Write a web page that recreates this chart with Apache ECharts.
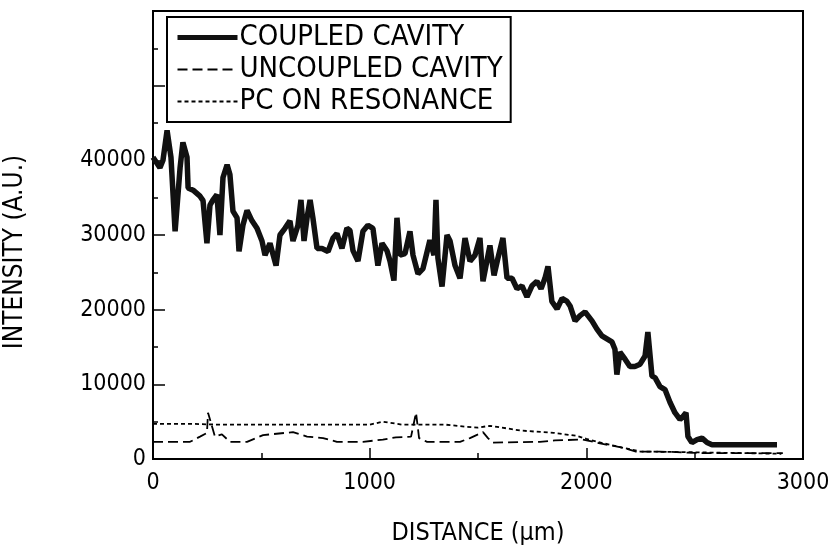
<!DOCTYPE html>
<html>
<head>
<meta charset="utf-8">
<script src="https://cdn.jsdelivr.net/npm/echarts@6/dist/echarts.min.js"></script>
<style>
  html, body { margin: 0; padding: 0; background: #fff; }
  #app { width: 834px; height: 558px; }
</style>
</head>
<body>
<div id="app"></div>
<script>
// distance (um) / intensity (a.u.)
const coupledDist = [0, 32, 46, 65, 83, 102, 125, 138, 157, 162, 185, 217, 231, 249, 263, 277, 295, 309, 323, 342,
  355, 369, 388, 397, 415, 434, 457, 480, 503, 517, 540, 568, 586, 609, 632, 646, 669, 683, 697, 711,
  725, 738, 757, 780, 808, 831, 849, 872, 895, 909, 923, 946, 969, 992, 1015, 1038, 1057, 1080, 1094, 1112,
  1126, 1140, 1163, 1186, 1200, 1223, 1246, 1278, 1297, 1306, 1315, 1334, 1357, 1371, 1394, 1417, 1440, 1463, 1486, 1509,
  1523, 1555, 1574, 1592, 1615, 1634, 1657, 1680, 1703, 1726, 1749, 1772, 1791, 1809, 1823, 1841, 1865, 1888, 1911, 1925,
  1948, 1971, 1994, 2026, 2049, 2072, 2095, 2118, 2132, 2141, 2155, 2178, 2201, 2224, 2248, 2271, 2284, 2303, 2317, 2340,
  2363, 2386, 2409, 2432, 2446, 2460, 2469, 2487, 2511, 2534, 2557, 2580, 2880];
const coupledInt = [40400, 39000, 40000, 44000, 40400, 30500, 39000, 42400, 40400, 36300, 36000, 35200, 34600, 28900, 34000, 34700, 35400, 30000, 37700, 39400,
  38100, 33200, 32300, 27800, 31300, 33300, 31900, 30900, 29200, 27300, 28900, 25900, 30000, 30900, 31900, 29200, 31300, 34700, 29200, 32300,
  34700, 32300, 28200, 28200, 27800, 29600, 30200, 28200, 30900, 30600, 27900, 26500, 30500, 31300, 30900, 25900, 28900, 27900, 26500, 23900,
  32300, 27300, 27500, 30500, 27300, 24800, 25500, 29300, 27300, 34700, 26900, 23100, 30000, 29200, 25900, 24200, 29600, 26500, 27300, 29600,
  23800, 28600, 24600, 26900, 29600, 24200, 24200, 22800, 23200, 21700, 23200, 23800, 22800, 24200, 25800, 21100, 20100, 21500, 21100, 20500,
  18500, 19200, 19700, 18500, 17400, 16500, 16100, 15700, 14700, 11300, 14300, 13400, 12400, 12400, 12700, 13800, 17000, 11100, 10900, 9700,
  9300, 7600, 6200, 5300, 5700, 6200, 3000, 2200, 2600, 2800, 2200, 1900, 1900];

const uncoupledDist = [0, 171, 217, 249, 254, 286, 318, 355, 434, 508, 646, 711, 785, 849, 969, 1061, 1121, 1191, 1214, 1228,
  1265, 1417, 1463, 1523, 1546, 1569, 1786, 1855, 1984, 2063, 2169, 2229, 2340, 2524, 2907];
const uncoupledInt = [2300, 2300, 3000, 3500, 6200, 3000, 3300, 2300, 2300, 3200, 3600, 3000, 2800, 2300, 2300, 2600, 2900, 3000, 6200, 2800,
  2300, 2300, 2800, 3600, 2800, 2200, 2300, 2500, 2600, 2100, 1500, 1000, 1000, 800, 800];

const pcDist = [0, 185, 300, 1000, 1060, 1150, 1350, 1450, 1500, 1555, 1700, 1850, 1955, 2000, 2080, 2170, 2250, 2500, 2900];
const pcInt = [4700, 4700, 4600, 4600, 5000, 4600, 4600, 4300, 4200, 4450, 3800, 3500, 3100, 2700, 2100, 1500, 1000, 900, 700];

const seriesNames = ['COUPLED CAVITY', 'UNCOUPLED CAVITY', 'PC ON RESONANCE'];
const yTickLabels = ['0', '10000', '20000', '30000', '40000'];

function zip(xs, ys) {
  return xs.map((x, i) => [x, ys[i]]);
}

const FONT = "'Liberation Sans Narrow', 'DejaVu Sans Condensed', sans-serif";

var myChart = echarts.init(document.getElementById('app'));

let option = {
  animation: false,
  backgroundColor: '#fff',
  grid: {
    left: 153,
    right: 31,
    top: 11,
    bottom: 99,
    containLabel: false,
    outerBoundsMode: 'none',
    show: true,
    borderColor: '#000',
    borderWidth: 2
  },
  legend: {
    orient: 'vertical',
    left: 167,
    top: 17,
    padding: [6, 8, 6, 8],
    itemGap: 3,
    itemWidth: 60,
    itemHeight: 14,
    borderColor: '#000',
    borderWidth: 2,
    backgroundColor: '#fff',
    itemStyle: { color: 'rgba(0,0,0,0)', borderWidth: 0 },
    data: [
      { name: seriesNames[0], lineStyle: { width: 5 } },
      { name: seriesNames[1], lineStyle: { width: 1.8 } },
      { name: seriesNames[2], lineStyle: { width: 1.8 } }
    ],
    textStyle: {
      fontFamily: FONT,
      fontSize: 29,
      lineHeight: 29,
      color: '#000',
      padding: [0, 0, 0, -3]
    }
  },
  xAxis: {
    type: 'value',
    min: 0,
    max: 3000,
    interval: 1000,
    name: 'DISTANCE (\u03bcm)',
    nameLocation: 'middle',
    nameGap: 62,
    nameTextStyle: { fontFamily: FONT, fontSize: 25, color: '#000' },
    axisLine: { onZero: false, lineStyle: { color: '#000', width: 2 } },
    axisTick: { inside: true, length: 11, lineStyle: { color: '#000', width: 1.5 } },
    minorTick: { show: true, splitNumber: 2, length: 6, lineStyle: { color: '#000', width: 1.5 } },
    axisLabel: {
      fontFamily: FONT, fontSize: 23, color: '#000', margin: 13,
      formatter: function (v) { return String(v); }
    },
    splitLine: { show: false }
  },
  yAxis: {
    type: 'value',
    min: 0,
    max: 60000,
    interval: 10000,
    name: 'INTENSITY (A.U.)',
    nameLocation: 'middle',
    nameGap: 125,
    nameRotate: 90,
    nameTextStyle: { fontFamily: FONT, fontSize: 26, color: '#000', padding: [0, 34, 0, 0] },
    axisLine: { onZero: false, lineStyle: { color: '#000', width: 2 } },
    axisTick: { inside: true, length: 12, lineStyle: { color: '#000', width: 1.5 } },
    minorTick: { show: true, splitNumber: 2, length: 5, lineStyle: { color: '#000', width: 1.5 } },
    axisLabel: {
      fontFamily: FONT,
      fontSize: 23,
      color: '#000',
      margin: 7,
      formatter: function (v) {
        let s = String(v);
        return yTickLabels.indexOf(s) >= 0 ? s : '';
      }
    },
    splitLine: { show: false }
  },
  series: [
    {
      name: seriesNames[0],
      type: 'line',
      symbol: 'none',
      data: zip(coupledDist, coupledInt),
      lineStyle: { color: '#111', width: 5.5 },
      itemStyle: { color: '#111' },
      z: 3
    },
    {
      name: seriesNames[1],
      type: 'line',
      symbol: 'none',
      data: zip(uncoupledDist, uncoupledInt),
      lineStyle: { color: '#000', width: 1.8, type: [10, 5] },
      itemStyle: { color: '#000' }
    },
    {
      name: seriesNames[2],
      type: 'line',
      symbol: 'none',
      data: zip(pcDist, pcInt),
      lineStyle: { color: '#000', width: 1.8, type: [4, 3] },
      itemStyle: { color: '#000' }
    }
  ]
};

myChart.setOption(option);
</script>
</body>
</html>
